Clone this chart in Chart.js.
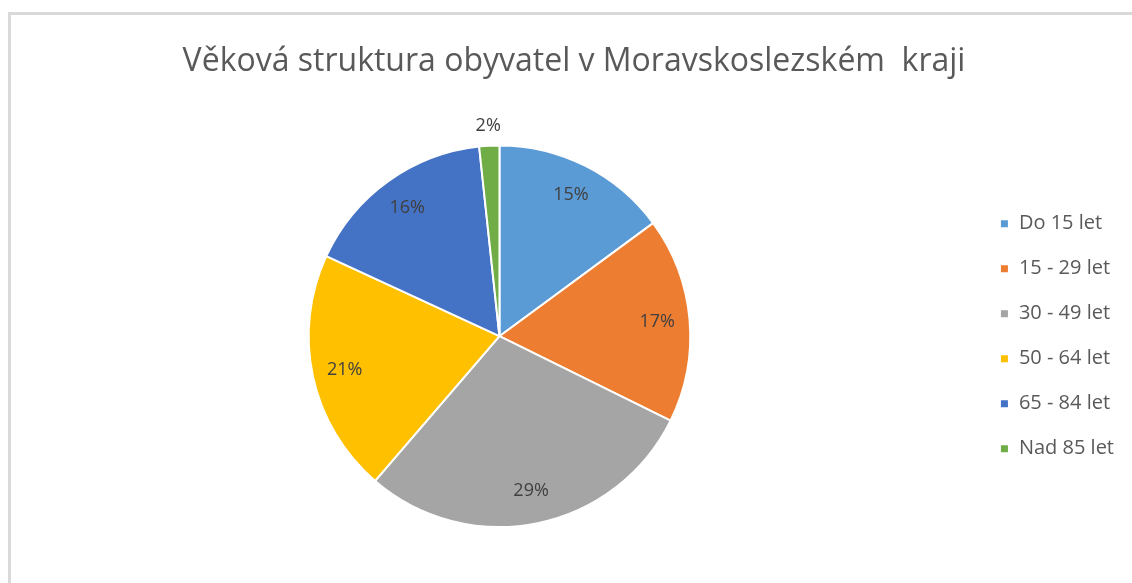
<!DOCTYPE html>
<html>
<head>
<meta charset="utf-8">
<script src="https://cdn.jsdelivr.net/npm/chart.js@4"></script>
<style>
  html, body { margin: 0; padding: 0; background: #fff; overflow: hidden; }
  #frame { position: absolute; left: 8px; top: 12px; width: 1200px; height: 700px; border: 3px solid #d9d9d9; }
  #wrap { position: absolute; left: 0; top: 0; width: 1132px; height: 583px; }
</style>
</head>
<body>
<div id="frame"></div>
<div id="wrap"><canvas id="pie"></canvas></div>
<script>
const categories = ['Do 15 let', '15 - 29 let', '30 - 49 let', '50 - 64 let', '65 - 84 let', 'Nad 85 let'];
const shares = [14.9, 17.4, 29.0, 20.6, 16.4, 1.7];
const colors = ['#5B9BD5', '#ED7D31', '#A5A5A5', '#FFC000', '#4472C4', '#70AD47'];

const FONT = '"Open Sans", sans-serif';

// popisky procent do výsečí
const pctLabels = {
  id: 'pctLabels',
  afterDatasetsDraw(chart) {
    const ctx = chart.ctx;
    const meta = chart.getDatasetMeta(0);
    const total = shares.reduce((a, b) => a + b, 0);
    ctx.save();
    ctx.font = '18px ' + FONT;
    ctx.fillStyle = '#404040';
    ctx.textAlign = 'center';
    ctx.textBaseline = 'middle';
    meta.data.forEach((arc, i) => {
      const p = arc.getProps(['x', 'y', 'startAngle', 'endAngle', 'outerRadius'], true);
      const mid = (p.startAngle + p.endAngle) / 2;
      const pct = shares[i] / total * 100;
      const r = pct < 4 ? p.outerRadius + 20 : p.outerRadius * 0.83;
      ctx.fillText(Math.round(pct) + '%', p.x + Math.cos(mid) * r, p.y + Math.sin(mid) * r);
    });
    ctx.restore();
  }
};

new Chart(document.getElementById('pie'), {
  type: 'pie',
  data: {
    labels: categories,
    datasets: [{
      data: shares,
      backgroundColor: colors,
      borderColor: '#ffffff',
      borderWidth: 2
    }]
  },
  options: {
    responsive: true,
    maintainAspectRatio: false,
    animation: false,
    layout: { padding: { left: 24, right: 8, bottom: 55 } },
    plugins: {
      title: {
        display: true,
        text: 'Věková struktura obyvatel v Moravskoslezském  kraji',
        color: '#595959',
        font: { family: FONT, size: 32, weight: 'normal' },
        padding: { top: 43, bottom: 63 }
      },
      legend: {
        position: 'right',
        fullSize: false,
        labels: {
          color: '#595959',
          font: { family: FONT, size: 20 },
          boxWidth: 9,
          boxHeight: 9,
          padding: 25
        }
      },
      tooltip: { enabled: false }
    }
  },
  plugins: [pctLabels]
});
</script>
</body>
</html>
